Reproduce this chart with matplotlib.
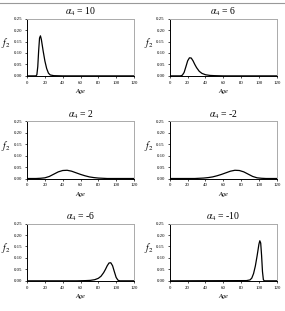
import matplotlib
matplotlib.use("Agg")
import matplotlib.pyplot as plt
from matplotlib.lines import Line2D

plt.rcParams['font.family'] = ['Liberation Serif', 'DejaVu Serif']
plt.rcParams['mathtext.fontset'] = 'stix'

titles = [r'$\alpha_4$ = 10', r'$\alpha_4$ = 6', r'$\alpha_4$ = 2',
          r'$\alpha_4$ = -2', r'$\alpha_4$ = -6', r'$\alpha_4$ = -10']

ages1 = [0, 10, 11, 12, 13, 14, 15, 16, 17, 18, 20, 22, 24, 26, 30, 40, 120]
f1 = [0, 0, 0.005, 0.04, 0.11, 0.165, 0.175, 0.16, 0.135, 0.11, 0.065, 0.032, 0.012, 0.004, 0.001, 0, 0]

ages2 = [0, 12, 14, 16, 18, 20, 22, 24, 26, 28, 30, 33, 36, 40, 45, 50, 60, 120]
f2 = [0, 0, 0.003, 0.015, 0.04, 0.066, 0.079, 0.078, 0.066, 0.05, 0.036, 0.02, 0.011, 0.005, 0.002, 0.001, 0, 0]

ages3 = [0, 10, 15, 20, 25, 30, 35, 40, 45, 50, 55, 60, 65, 70, 75, 80, 90, 120]
f3 = [0, 0, 0.001, 0.003, 0.009, 0.019, 0.029, 0.035, 0.036, 0.032, 0.025, 0.018, 0.012, 0.007, 0.004, 0.002, 0, 0]

ages4 = [0, 28, 38, 43, 48, 53, 58, 63, 68, 73, 78, 83, 88, 93, 98, 103, 108, 120]
f4 = [0, 0, 0.002, 0.004, 0.007, 0.012, 0.018, 0.025, 0.032, 0.036, 0.035, 0.029, 0.019, 0.009, 0.003, 0.001, 0, 0]

ages5 = [0, 56, 66, 71, 76, 80, 83, 86, 88, 90, 92, 94, 96, 98, 100, 102, 104, 120]
f5 = [0, 0, 0.001, 0.002, 0.005, 0.011, 0.02, 0.036, 0.05, 0.066, 0.078, 0.079, 0.066, 0.04, 0.015, 0.003, 0, 0]

ages6 = [0, 86, 90, 92, 94, 96, 98, 99, 100, 101, 102, 103, 104, 105, 106, 120]
f6 = [0, 0.001, 0.004, 0.012, 0.032, 0.065, 0.11, 0.135, 0.16, 0.175, 0.165, 0.11, 0.04, 0.005, 0, 0]

series = [(ages1, f1), (ages2, f2), (ages3, f3), (ages4, f4), (ages5, f5), (ages6, f6)]

x_ticks = [0, 20, 40, 60, 80, 100, 120]
y_ticks = [0.00, 0.05, 0.10, 0.15, 0.20, 0.25]

fig = plt.figure(figsize=(2.85, 3.11), dpi=100)

# thin rule across the top
fig.add_artist(Line2D([0, 1], [0.99, 0.99], color='#999999', linewidth=0.8))

lefts = [0.095, 0.596]
bottoms = [0.756, 0.426, 0.097]
w, h = 0.375, 0.184

for i, (ages, f) in enumerate(series):
    row, col = i // 2, i % 2
    ax = fig.add_axes([lefts[col], bottoms[row], w, h])
    ax.plot(ages, f, color='black', linewidth=0.9)
    ax.set_xlim(0, 120)
    ax.set_ylim(0, 0.25)
    ax.set_xticks(x_ticks)
    ax.set_yticks(y_ticks)
    ax.set_yticklabels(['%.2f' % v for v in y_ticks])
    ax.tick_params(labelsize=3.5, length=1.5, width=0.5, pad=2)
    ax.spines['left'].set_linewidth(0.7)
    ax.spines['bottom'].set_linewidth(0.7)
    for side in ['top', 'right']:
        ax.spines[side].set_color('#aaaaaa')
        ax.spines[side].set_linewidth(0.7)
    ax.set_title(titles[i], fontsize=7, pad=3)
    ax.set_xlabel('Age', fontsize=4.5, style='italic', labelpad=3)
    ax.set_ylabel(r'$f_2$', fontsize=7, rotation=0)
    ax.yaxis.set_label_coords(-0.2, 0.45)

fig.savefig('out.png', dpi=100)
